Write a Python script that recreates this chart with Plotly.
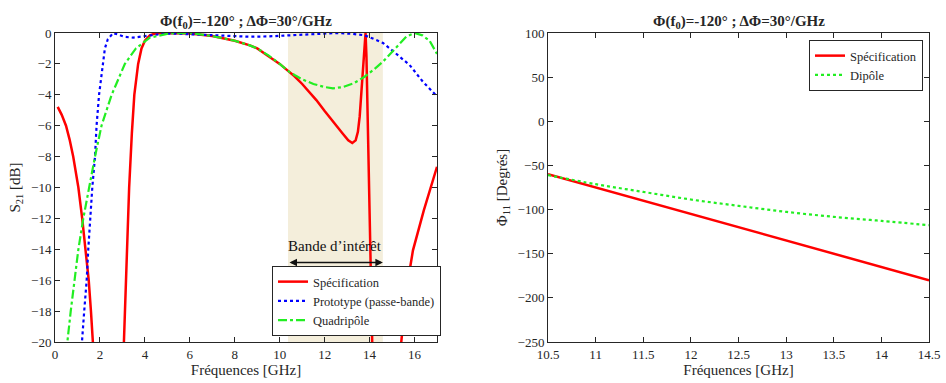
import plotly.graph_objects as go

# ---------------- data ----------------
# Left panel: |S21| in dB versus frequency (GHz)
f_spec = [0.12, 0.3, 0.49, 0.65, 0.81, 1.04, 1.21, 1.36, 1.5, 1.6, 1.7, 1.8, 1.9, None,
          2.95, 3.07, 3.11, 3.2, 3.3, 3.42, 3.53, 3.7, 3.85, 4.0, 4.22, 4.52, 5.0, 6.0, 7.0,
          8.0, 8.67, 9.0, 9.5, 10.0, 10.37, 10.66, 11.0, 11.63, 12.0, 12.37, 12.8, 13.05,
          13.23, 13.38, 13.48, 13.56, 13.63, 13.7, 13.78, 13.82, 13.86, 13.9, 13.95, 14.0,
          14.05, 14.12, 14.2, None, 15.3, 15.41, 15.63, 15.93, 16.41, 16.71, 17.0]
s21_spec = [-4.78, -5.3, -6.0, -6.9, -8.0, -10.0, -12.0, -14.0, -16.0, -18.0, -20.0, -22.5, -25.0, None,
            -25.0, -20.0, -18.0, -14.0, -10.0, -6.5, -4.0, -2.0, -1.0, -0.5, -0.15, 0.0, 0.0, -0.03, -0.2,
            -0.5, -0.8, -1.0, -1.5, -2.0, -2.45, -2.8, -3.3, -4.34, -5.05, -5.75, -6.5, -6.95,
            -7.12, -6.95, -6.4, -5.4, -3.9, -2.3, -0.6, 0.0, -1.5, -4.5, -8.0, -11.5,
            -15.0, -20.0, -26.0, None, -23.0, -20.0, -16.7, -14.07, -11.5, -10.0, -8.66]

f_proto = [1.1, 1.2, 1.3, 1.41, 1.48, 1.56, 1.66, 1.78, 1.85, 1.96, 2.12, 2.22, 2.35, 2.59,
           2.8, 3.1, 3.48, 3.9, 4.3, 4.8, 5.5, 6.5, 7.5, 8.67, 9.5, 10.5, 11.63, 12.52,
           13.2, 13.78, 14.3, 14.6, 15.04, 15.78, 16.37, 17.0]
s21_proto = [-23.0, -20.0, -18.0, -16.0, -14.0, -12.0, -10.0, -8.0, -6.0, -4.0, -2.0, -1.0, -0.4, 0.0,
             -0.1, -0.25, -0.3, -0.22, -0.1, -0.05, -0.05, -0.1, -0.17, -0.24, -0.22, -0.15, -0.06, 0.0,
             -0.05, -0.15, -0.45, -0.65, -1.17, -2.07, -3.15, -4.1]

f_quad = [0.45, 0.55, 0.7, 0.86, 1.04, 1.26, 1.51, 1.78, 2.07, 2.52, 3.11, 3.6, 4.22, 5.1,
          6.0, 7.0, 8.0, 8.67, 9.0, 9.5, 10.0, 10.37, 10.66, 11.0, 11.5, 12.0, 12.37, 12.8,
          13.3, 13.78, 14.2, 14.59, 15.04, 15.63, 16.0, 16.35, 16.67, 17.0]
s21_quad = [-23.0, -20.0, -18.0, -16.0, -14.0, -12.0, -10.0, -8.0, -6.0, -4.0, -2.0, -1.0, -0.3, -0.02,
            0.0, -0.2, -0.5, -0.8, -1.0, -1.45, -2.0, -2.45, -2.72, -3.0, -3.3, -3.5, -3.58, -3.5,
            -3.25, -2.83, -2.35, -1.86, -1.17, -0.24, 0.0, -0.15, -0.5, -1.35]

# band of interest (GHz)
band_lo = 10.37
band_hi = 14.59

# Right panel: phase of S11 (degrees) versus frequency (GHz)
f_phase = [10.5, 11.0, 11.5, 12.0, 12.5, 13.0, 13.5, 14.0, 14.5]
phi_spec = [-60, -75, -90, -105, -120, -135, -150, -165, -180]
phi_dipole = [-61, -71.2, -80, -88.6, -95.8, -102.6, -108.2, -112.8, -117.7]

# ---------------- figure ----------------
W, H = 946, 383
SERIF = "Liberation Serif"
AX_COL = "#262626"

fig = go.Figure()

fig.add_trace(go.Scatter(x=f_spec, y=s21_spec, mode="lines", name="Spécification",
                         line=dict(color="#ff0000", width=2.5), xaxis="x", yaxis="y",
                         legend="legend", connectgaps=False))
fig.add_trace(go.Scatter(x=f_proto, y=s21_proto, mode="lines", name="Prototype (passe-bande)",
                         line=dict(color="#0000ff", width=2.2, dash="dot"), xaxis="x", yaxis="y",
                         legend="legend"))
fig.add_trace(go.Scatter(x=f_quad, y=s21_quad, mode="lines", name="Quadripôle",
                         line=dict(color="#22ee22", width=2.2, dash="dashdot"), xaxis="x", yaxis="y",
                         legend="legend"))

fig.add_trace(go.Scatter(x=f_phase, y=phi_spec, mode="lines", name="Spécification",
                         line=dict(color="#ff0000", width=2.5), xaxis="x2", yaxis="y2",
                         legend="legend2"))
fig.add_trace(go.Scatter(x=f_phase, y=phi_dipole, mode="lines", name="Dipôle",
                         line=dict(color="#22ee22", width=2.2, dash="dot", shape="spline"),
                         xaxis="x2", yaxis="y2", legend="legend2"))

# plot areas in pixels -> paper domains
def px_x(p):
    return p / W

def px_y(p):
    return (H - p) / H

dom_y = [px_y(342), px_y(33)]

axis_common = dict(showline=True, linecolor=AX_COL, linewidth=1, mirror="ticks", ticks="inside",
                   ticklen=5, tickcolor=AX_COL, showgrid=False, zeroline=False,
                   tickfont=dict(family=SERIF, size=13, color=AX_COL), automargin=False)

fig.update_layout(
    width=W, height=H, margin=dict(l=0, r=0, t=0, b=0),
    paper_bgcolor="white", plot_bgcolor="white",
    font=dict(family=SERIF, color=AX_COL),
    xaxis=dict(domain=[px_x(55), px_x(437)], range=[0, 17], tickmode="array",
               tickvals=[0, 2, 4, 6, 8, 10, 12, 14, 16], anchor="y",
               title=dict(text="Fréquences [GHz]", font=dict(family=SERIF, size=15, color=AX_COL), standoff=2),
               **axis_common),
    yaxis=dict(domain=dom_y, range=[-20, 0], tickmode="array",
               tickvals=list(range(-20, 1, 2)), anchor="x",
               title=dict(text="S<sub>21</sub> [dB]", font=dict(family=SERIF, size=15, color=AX_COL), standoff=6),
               **axis_common),
    xaxis2=dict(domain=[px_x(548), px_x(929)], range=[10.5, 14.5], tickmode="array",
                tickvals=[10.5, 11, 11.5, 12, 12.5, 13, 13.5, 14, 14.5],
                ticktext=["10.5", "11", "11.5", "12", "12.5", "13", "13.5", "14", "14.5"], anchor="y2",
                title=dict(text="Fréquences [GHz]", font=dict(family=SERIF, size=15, color=AX_COL), standoff=2),
                **axis_common),
    yaxis2=dict(domain=dom_y, range=[-250, 100], tickmode="array",
                tickvals=[-250, -200, -150, -100, -50, 0, 50, 100], anchor="x2",
                title=dict(text="Φ<sub>11</sub> [Degrés]", font=dict(family=SERIF, size=15, color=AX_COL), standoff=6),
                **axis_common),
    legend=dict(x=px_x(272), y=px_y(336), xanchor="left", yanchor="bottom",
                bgcolor="white", bordercolor="#262626", borderwidth=1,
                font=dict(family=SERIF, size=12.5, color=AX_COL), tracegroupgap=0,
                itemwidth=30),
    legend2=dict(x=px_x(923), y=px_y(40), xanchor="right", yanchor="top",
                 bgcolor="white", bordercolor="#262626", borderwidth=1,
                 font=dict(family=SERIF, size=12.5, color=AX_COL), tracegroupgap=0,
                 itemwidth=30),
    showlegend=True,
)

# shaded band of interest
fig.add_shape(type="rect", xref="x", yref="y", x0=band_lo, x1=band_hi, y0=-20, y1=0,
              fillcolor="#f4eedb", line=dict(width=0), layer="below")

# double arrow + label
fig.add_annotation(x=band_hi, y=-14.86, ax=band_lo, ay=-14.86, xref="x", yref="y",
                   axref="x", ayref="y", text="", showarrow=True, arrowhead=2,
                   arrowside="end+start", arrowsize=1, arrowwidth=1.5, arrowcolor="#111111")
fig.add_annotation(x=(band_lo + band_hi) / 2, y=-13.78, xref="x", yref="y", text="Bande d’intérêt",
                   showarrow=False, font=dict(family=SERIF, size=15, color="#111111"))

# titles
title_txt = "<b>Φ(f<sub>0</sub>)=-120° ; ΔΦ=30°/GHz</b>"
for xc in [(55 + 437) / 2, (548 + 929) / 2]:
    fig.add_annotation(x=px_x(xc), y=px_y(33), xref="paper", yref="paper", text=title_txt,
                       showarrow=False, xanchor="center", yanchor="bottom",
                       font=dict(family=SERIF, size=15, color=AX_COL))

fig.write_html("out.html", config={"displayModeBar": False},
               post_script="document.body.style.margin='0px';")
